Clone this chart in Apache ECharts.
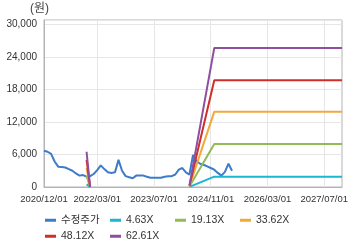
<!DOCTYPE html>
<html>
<head>
<meta charset="utf-8">
<style>
  html, body { margin: 0; padding: 0; background: #fff; }
  #chart { width: 360px; height: 248px; }
</style>
<script src="https://cdn.jsdelivr.net/npm/echarts@6/dist/echarts.min.js"></script>
</head>
<body>
<div id="chart"></div>
<script>
  // monthly categories 2020/12/01 .. 2027/12/01
  var months = [];
  for (var y = 2020, m = 12; y < 2027 || (y === 2027 && m <= 12); ) {
    months.push(y + '/' + (m < 10 ? '0' + m : m) + '/01');
    m++;
    if (m > 12) { m = 1; y++; }
  }

  // 수정주가 (monthly, from 2020/12)
  var priceValues = [6700, 6500, 6100, 4700, 3750, 3700, 3600, 3300, 3000, 2500,
    2100, 2200, 1900, 2000, 2400, 3100, 4000, 3300, 2700, 2600,
    2700, 5000, 3000, 2000, 1800, 1600, 2100, 2100, 2100, 1900,
    1700, 1700, 1700, 1700, 1900, 2000, 2000, 2300, 3200, 3500,
    2700, 2300, 5900, 4700, 4300, 4100, 3800, 3500, 3200, 2600,
    2100, 2800, 4300, 3000];

  // PER band points
  var bandDates = ['2021/12/01', '2022/01/01', '2022/02/01', '2024/05/01', '2024/12/01', '2027/12/01'];
  var band463 = [480, 0, null, 25, 1900, 1900];
  var band1913 = [2000, 0, null, 100, 7950, 7950];
  var band3362 = [3500, 0, null, 170, 13900, 13900];
  var band4812 = [5000, 0, null, 240, 19700, 19700];
  var band6261 = [6500, 0, null, 310, 25650, 25650];

  var seriesNames = ['수정주가', '4.63X', '19.13X', '33.62X', '48.12X', '62.61X'];
  var seriesColors = ['#3d7cc9', '#1bb6cf', '#93bb55', '#f2a93b', '#cf2f2b', '#8e4fa0'];

  var font = 'Arial, "Liberation Sans", "Noto Sans CJK KR", sans-serif';

  function bandPairs(vals) {
    return vals.map(function (v, i) { return [bandDates[i], v == null ? '-' : v]; });
  }

  function labelAt(index) {
    return index === 0 || index % 16 === 15;
  }

  var chart = echarts.init(document.getElementById('chart'), null, { renderer: 'canvas' });

  // legend laid out in fixed columns
  var legendPos = [[45, 215], [110, 215], [175, 215], [240, 215], [45, 231], [110, 231]];
  var legends = seriesNames.map(function (n, i) {
    return {
      data: [n],
      left: legendPos[i][0],
      top: legendPos[i][1],
      icon: 'rect',
      itemWidth: 11,
      itemHeight: 3,
      padding: 0,
      textStyle: { fontSize: 10.5, color: '#333', fontFamily: font }
    };
  });

  var option = {
    animation: false,
    textStyle: { fontFamily: font },
    legend: legends,
    grid: {
      left: 44, right: 18, top: 20, bottom: 61,
      show: true, borderColor: '#b4b4b4', borderWidth: 1
    },
    xAxis: {
      type: 'category',
      data: months,
      boundaryGap: false,
      axisLine: { lineStyle: { color: '#b4b4b4' } },
      axisTick: { show: false, interval: function (i) { return labelAt(i); } },
      axisLabel: {
        interval: function (i) { return labelAt(i); },
        fontSize: 9.5, color: '#333', margin: 8, fontFamily: font
      },
      splitLine: {
        show: true,
        interval: function (i) { return labelAt(i); },
        lineStyle: { color: '#e6e6e6' }
      }
    },
    yAxis: {
      type: 'value',
      min: 0,
      max: 30800,
      interval: 6000,
      name: '(원)',
      nameGap: 5,
      nameTextStyle: { fontSize: 12, color: '#444', align: 'center', padding: [0, 9, 0, 0], fontFamily: font },
      axisLine: { show: true, lineStyle: { color: '#b4b4b4' } },
      axisTick: { show: false },
      axisLabel: {
        showMaxLabel: false,
        fontSize: 10, color: '#333', margin: 7, fontFamily: font,
        formatter: function (v) { return echarts.format.addCommas(v); }
      },
      splitLine: { lineStyle: { color: '#e6e6e6' } }
    },
    series: [
      { name: seriesNames[0], type: 'line', data: priceValues },
      { name: seriesNames[1], type: 'line', data: bandPairs(band463) },
      { name: seriesNames[2], type: 'line', data: bandPairs(band1913) },
      { name: seriesNames[3], type: 'line', data: bandPairs(band3362) },
      { name: seriesNames[4], type: 'line', data: bandPairs(band4812) },
      { name: seriesNames[5], type: 'line', data: bandPairs(band6261) }
    ].map(function (s, i) {
      s.color = seriesColors[i];
      s.showSymbol = false;
      s.symbol = 'none';
      s.connectNulls = false;
      s.lineStyle = { width: 2, color: seriesColors[i] };
      return s;
    })
  };

  chart.setOption(option);
</script>
</body>
</html>
